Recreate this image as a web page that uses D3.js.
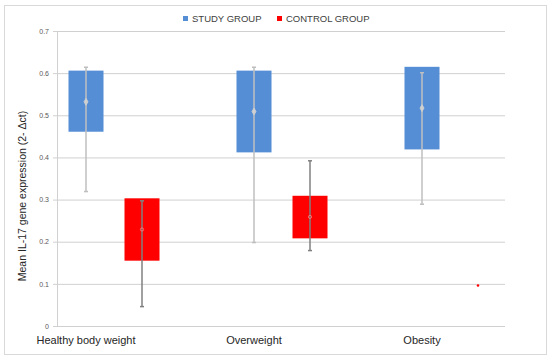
<!DOCTYPE html>
<html>
<head>
<meta charset="utf-8">
<script src="https://cdn.jsdelivr.net/npm/d3@7"></script>
<style>
  body { margin: 0; background: #fff; }
  svg { display: block; font-family: 'Liberation Sans', Arial, sans-serif; }
</style>
</head>
<body>
<svg width="550" height="360"></svg>
<script>
const categories = ['Healthy body weight', 'Overweight', 'Obesity'];
const groups = ['STUDY GROUP', 'CONTROL GROUP'];
const yTicks = [0, 0.1, 0.2, 0.3, 0.4, 0.5, 0.6, 0.7];

// box top / bottom, mean, error bar high / low (null = not drawn)
const studyTop = [0.606, 0.606, 0.615];
const studyBottom = [0.461, 0.412, 0.419];
const studyMean = [0.532, 0.509, 0.517];
const studyHigh = [0.614, 0.614, 0.601];
const studyLow = [0.319, 0.198, 0.289];

const controlTop = [0.303, 0.309, null];
const controlBottom = [0.155, 0.208, null];
const controlMean = [0.229, 0.259, 0.096];
const controlHigh = [0.297, 0.392, null];
const controlLow = [0.046, 0.179, null];

const colors = ['#558ed5', '#ff0000'];
const whiskerColors = ['#bfbfbf', '#808080'];

const width = 550;
const height = 360;
const margin = ({top: 31, right: 45, bottom: 34, left: 57});

const svg = d3.select('svg');

svg.append('rect')
    .attr('x', 4.5).attr('y', 5.5)
    .attr('width', 542).attr('height', 349)
    .attr('fill', '#fff')
    .attr('stroke', '#d9d9d9');

const y = d3.scaleLinear().domain([0, 0.7]).range([height - margin.bottom, margin.top]);
const x = d3.scalePoint().domain(categories).range([86, 422]);
const offset = [0, 56];
const barW = 35;

// grid + y axis
const yAxis = svg.append('g')
    .attr('transform', `translate(${margin.left},0)`)
    .call(d3.axisLeft(y).tickValues(yTicks).tickSize(-(width - margin.right - margin.left))
        .tickPadding(8).tickFormat(d => d === 0 ? '0' : d3.format('.1f')(d)));
yAxis.select('.domain').remove();
yAxis.selectAll('.tick line').attr('stroke', '#d0d0d0').attr('x1', -4);
yAxis.selectAll('.tick text').attr('fill', '#595959').attr('font-size', 7);

svg.append('line')
    .attr('x1', margin.left + 0.5).attr('x2', margin.left + 0.5)
    .attr('y1', y(0.7)).attr('y2', y(0))
    .attr('stroke', '#d0d0d0');

// x labels
svg.append('g')
    .selectAll('text')
    .data(categories)
    .join('text')
    .attr('x', d => x(d))
    .attr('y', 344)
    .attr('text-anchor', 'middle')
    .attr('font-size', 11)
    .attr('fill', '#262626')
    .text(d => d);

// y title
svg.append('text')
    .attr('transform', `translate(26,${196}) rotate(-90)`)
    .attr('text-anchor', 'middle')
    .attr('font-size', 10.5)
    .attr('fill', '#262626')
    .text('Mean IL-17 gene expression (2- Δct)');

const series = [
  {top: studyTop, bottom: studyBottom, mean: studyMean, high: studyHigh, low: studyLow},
  {top: controlTop, bottom: controlBottom, mean: controlMean, high: controlHigh, low: controlLow}
];

series.forEach((s, gi) => {
  const g = svg.append('g');
  const rows = categories.map((c, i) => ({
    c, top: s.top[i], bottom: s.bottom[i], mean: s.mean[i], high: s.high[i], low: s.low[i]
  }));
  const cx = d => x(d.c) + offset[gi];

  g.selectAll('rect')
      .data(rows.filter(d => d.top != null))
      .join('rect')
      .attr('x', d => cx(d) - barW / 2)
      .attr('width', barW)
      .attr('y', d => y(d.top))
      .attr('height', d => y(d.bottom) - y(d.top))
      .attr('fill', colors[gi]);

  const w = rows.filter(d => d.high != null);
  g.selectAll('line.stem')
      .data(w)
      .join('line')
      .attr('class', 'stem')
      .attr('x1', cx).attr('x2', cx)
      .attr('y1', d => y(d.high)).attr('y2', d => y(d.low))
      .attr('stroke', whiskerColors[gi])
      .attr('stroke-width', 1.5);
  ['high', 'low'].forEach(k => {
    g.selectAll('line.cap-' + k)
        .data(w)
        .join('line')
        .attr('class', 'cap-' + k)
        .attr('x1', d => cx(d) - 2).attr('x2', d => cx(d) + 2)
        .attr('y1', d => y(d[k])).attr('y2', d => y(d[k]))
        .attr('stroke', whiskerColors[gi])
        .attr('stroke-width', 1.5);
  });

  // mean markers
  g.selectAll('path.mean')
      .data(rows.filter(d => d.mean != null))
      .join('path')
      .attr('class', 'mean')
      .attr('transform', d => `translate(${cx(d)},${y(d.mean)})`)
      .attr('d', d => d.top == null
          ? d3.symbol(d3.symbolCircle, 5)()
          : gi === 0 ? d3.symbol(d3.symbolDiamond, 14)() : d3.symbol(d3.symbolCircle, 8)())
      .attr('fill', d => d.top == null ? '#ff0000' : gi === 0 ? '#d0d0d0' : 'none')
      .attr('stroke', d => d.top == null ? 'none' : gi === 0 ? '#d0d0d0' : '#ff8080')
      .attr('stroke-width', 0.8);
});

// legend
const legend = svg.append('g');
const legendX = [183, 277];
groups.forEach((name, i) => {
  legend.append('rect')
      .attr('x', legendX[i]).attr('y', 16)
      .attr('width', 5).attr('height', 5)
      .attr('fill', colors[i]);
  legend.append('text')
      .attr('x', legendX[i] + 9).attr('y', 22)
      .attr('font-size', 9.5)
      .attr('fill', '#404040')
      .text(name);
});
</script>
</body>
</html>
